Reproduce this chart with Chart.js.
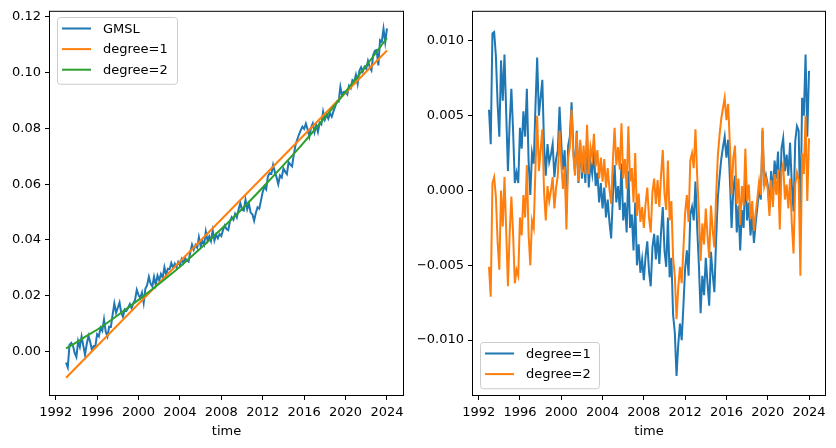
<!DOCTYPE html>
<html>
<head>
<meta charset="utf-8">
<script src="https://cdn.jsdelivr.net/npm/chart.js@4.4.1/dist/chart.umd.min.js"></script>
<style>
  html, body { margin: 0; padding: 0; background: #fff; }
  .wrap { position: relative; width: 836px; height: 448px; }
  canvas { position: absolute; top: 0; }
  #gmslChart { left: 0; }
  #residChart { left: 418px; }
</style>
</head>
<body>
<div class="wrap">
  <canvas id="gmslChart" width="418" height="448"></canvas>
  <canvas id="residChart" width="418" height="448"></canvas>
</div>
<script>
// samples every two months, 1993.0 .. 2024.0
const startYear = 1993;
const samplesPerYear = 6;

const gmsl = [
  -0.0040, -0.0057, 0.0024, 0.0031, 0.0021, -0.0005,
  -0.0020, 0.0037, 0.0016, 0.0054, 0.0021, -0.0012,
  0.0027, 0.0056, 0.0034, 0.0006, 0.0019, 0.0018,
  0.0062, 0.0054, 0.0085, 0.0074, 0.0115, 0.0071,
  0.0054, 0.0089, 0.0088, 0.0132, 0.0172, 0.0139,
  0.0157, 0.0176, 0.0138, 0.0124, 0.0151, 0.0146,
  0.0157, 0.0170, 0.0155, 0.0173, 0.0185, 0.0221,
  0.0203, 0.0191, 0.0211, 0.0174, 0.0226, 0.0238,
  0.0268, 0.0243, 0.0233, 0.0268, 0.0239, 0.0272,
  0.0255, 0.0278, 0.0264, 0.0302, 0.0274, 0.0297,
  0.0295, 0.0317, 0.0300, 0.0315, 0.0302, 0.0321,
  0.0310, 0.0331, 0.0317, 0.0335, 0.0326, 0.0322,
  0.0356, 0.0383, 0.0365, 0.0382, 0.0372, 0.0410,
  0.0378, 0.0396, 0.0383, 0.0430, 0.0398, 0.0413,
  0.0396, 0.0434, 0.0398, 0.0419, 0.0406, 0.0421,
  0.0414, 0.0436, 0.0452, 0.0439, 0.0435, 0.0467,
  0.0482, 0.0472, 0.0494, 0.0481, 0.0509, 0.0532,
  0.0509, 0.0505, 0.0544, 0.0510, 0.0530, 0.0498,
  0.0492, 0.0469, 0.0497, 0.0517, 0.0512, 0.0542,
  0.0573, 0.0591, 0.0581, 0.0628, 0.0639, 0.0637,
  0.0669, 0.0644, 0.0625, 0.0600, 0.0631, 0.0624,
  0.0656, 0.0645, 0.0636, 0.0679, 0.0670, 0.0664,
  0.0706, 0.0740, 0.0760, 0.0778, 0.0793, 0.0806,
  0.0798, 0.0817, 0.0797, 0.0770, 0.0803, 0.0818,
  0.0786, 0.0811, 0.0787, 0.0820, 0.0814, 0.0860,
  0.0832, 0.0850, 0.0835, 0.0854, 0.0842, 0.0862,
  0.0879, 0.0897, 0.0896, 0.0949, 0.0918, 0.0931,
  0.0932, 0.0922, 0.0953, 0.0944, 0.0973, 0.0967,
  0.0992, 0.0960, 0.1006, 0.1019, 0.1004, 0.1021,
  0.1013, 0.1042, 0.1020, 0.1008, 0.1062, 0.1078,
  0.1081, 0.1026, 0.1116, 0.1110, 0.1157, 0.1109,
  0.1159,
];

const residDeg1 = [
  0.0054, 0.0031, 0.0105, 0.0106, 0.0090, 0.0058,
  0.0036, 0.0087, 0.0060, 0.0091, 0.0052, 0.0013,
  0.0045, 0.0068, 0.0040, 0.0005, 0.0012, 0.0005,
  0.0042, 0.0028, 0.0053, 0.0036, 0.0068, 0.0020,
  -0.0003, 0.0025, 0.0018, 0.0056, 0.0089, 0.0050,
  0.0062, 0.0074, 0.0030, 0.0010, 0.0031, 0.0019,
  0.0024, 0.0031, 0.0009, 0.0021, 0.0027, 0.0056,
  0.0032, 0.0014, 0.0027, -0.0016, 0.0030, 0.0036,
  0.0059, 0.0028, 0.0012, 0.0040, 0.0005, 0.0032,
  0.0008, 0.0025, 0.0005, 0.0036, 0.0002, 0.0019,
  0.0011, 0.0026, 0.0003, 0.0012, -0.0008, 0.0005,
  -0.0012, 0.0002, -0.0018, -0.0006, -0.0021, -0.0032,
  -0.0004, 0.0017, -0.0008, 0.0003, -0.0013, 0.0018,
  -0.0020, -0.0008, -0.0028, 0.0013, -0.0025, -0.0016,
  -0.0040, -0.0008, -0.0050, -0.0036, -0.0055, -0.0046,
  -0.0060, -0.0044, -0.0034, -0.0054, -0.0064, -0.0038,
  -0.0029, -0.0046, -0.0030, -0.0049, -0.0028, -0.0011,
  -0.0040, -0.0051, -0.0018, -0.0058, -0.0045, -0.0083,
  -0.0095, -0.0124, -0.0103, -0.0089, -0.0100, -0.0077,
  -0.0052, -0.0040, -0.0057, -0.0016, -0.0011, -0.0020,
  0.0006, -0.0025, -0.0050, -0.0082, -0.0057, -0.0070,
  -0.0045, -0.0062, -0.0077, -0.0041, -0.0056, -0.0068,
  -0.0033, -0.0005, 0.0009, 0.0021, 0.0029, 0.0036,
  0.0022, 0.0034, 0.0008, -0.0025, 0.0001, 0.0010,
  -0.0028, -0.0010, -0.0040, -0.0013, -0.0025, 0.0014,
  -0.0020, -0.0008, -0.0030, -0.0017, -0.0035, -0.0022,
  -0.0011, 0.0001, -0.0006, 0.0040, 0.0003, 0.0010,
  0.0004, -0.0012, 0.0013, -0.0003, 0.0020, 0.0008,
  0.0026, -0.0012, 0.0028, 0.0035, 0.0013, 0.0024,
  0.0010, 0.0032, 0.0004, -0.0014, 0.0033, 0.0043,
  0.0040, -0.0022, 0.0062, 0.0050, 0.0091, 0.0036,
  0.0080,
];

const residDeg2 = [
  -0.0051, -0.0071, 0.0005, 0.0009, -0.0004, -0.0034,
  -0.0053, 0.0000, -0.0024, 0.0009, -0.0027, -0.0064,
  -0.0029, -0.0004, -0.0029, -0.0062, -0.0053, -0.0057,
  -0.0018, -0.0030, -0.0003, -0.0018, 0.0017, -0.0029,
  -0.0050, -0.0020, -0.0025, 0.0015, 0.0050, 0.0013,
  0.0027, 0.0041, -0.0001, -0.0020, 0.0003, -0.0007,
  0.0000, 0.0009, -0.0012, 0.0002, 0.0010, 0.0040,
  0.0018, 0.0001, 0.0016, -0.0026, 0.0022, 0.0029,
  0.0054, 0.0024, 0.0010, 0.0039, 0.0006, 0.0034,
  0.0012, 0.0030, 0.0011, 0.0044, 0.0011, 0.0029,
  0.0022, 0.0038, 0.0016, 0.0027, 0.0008, 0.0022,
  0.0006, 0.0021, 0.0002, 0.0015, 0.0001, -0.0009,
  0.0020, 0.0042, 0.0017, 0.0029, 0.0014, 0.0045,
  0.0008, 0.0021, 0.0001, 0.0043, 0.0006, 0.0015,
  -0.0008, 0.0025, -0.0017, -0.0002, -0.0021, -0.0011,
  -0.0025, -0.0009, 0.0002, -0.0018, -0.0028, -0.0001,
  0.0008, -0.0009, 0.0007, -0.0011, 0.0010, 0.0027,
  -0.0002, -0.0013, 0.0020, -0.0020, -0.0007, -0.0045,
  -0.0057, -0.0086, -0.0065, -0.0051, -0.0062, -0.0039,
  -0.0015, -0.0003, -0.0021, 0.0020, 0.0025, 0.0015,
  0.0041, 0.0010, -0.0015, -0.0047, -0.0022, -0.0036,
  -0.0012, -0.0030, -0.0045, -0.0010, -0.0026, -0.0038,
  -0.0004, 0.0023, 0.0037, 0.0048, 0.0055, 0.0062,
  0.0047, 0.0058, 0.0031, -0.0003, 0.0022, 0.0030,
  -0.0009, 0.0008, -0.0023, 0.0003, -0.0010, 0.0028,
  -0.0007, 0.0004, -0.0019, -0.0007, -0.0027, -0.0015,
  -0.0005, 0.0006, -0.0003, 0.0042, 0.0003, 0.0008,
  0.0001, -0.0017, 0.0007, -0.0011, 0.0011, -0.0003,
  0.0014, -0.0026, 0.0013, 0.0018, -0.0006, 0.0004,
  -0.0012, 0.0008, -0.0022, -0.0042, 0.0004, 0.0012,
  0.0007, -0.0057, 0.0025, 0.0011, 0.0050, -0.0007,
  0.0035,
];

// fitted curves, read at a few years
const fit1Years = [1993, 2024];
const fit1Values = [-0.0094, 0.1079];
const fit2Years = [1993, 1994, 1995, 1996, 1998, 2000, 2002, 2004, 2006, 2008, 2010, 2012, 2014, 2016, 2018, 2020, 2022, 2024];
const fit2Values = [0.0011, 0.0033, 0.0056, 0.0078, 0.0130, 0.0185, 0.0243, 0.0304, 0.0370, 0.0439, 0.0511, 0.0588, 0.0668, 0.0751, 0.0839, 0.0931, 0.1025, 0.1124];

const xTicks = [1992, 1996, 2000, 2004, 2008, 2012, 2016, 2020, 2024];
const gmslTicks = [0.00, 0.02, 0.04, 0.06, 0.08, 0.10, 0.12];
const residTicks = [-0.010, -0.005, 0.000, 0.005, 0.010];

const BLUE = '#1f77b4';
const ORANGE = '#ff7f0e';
const GREEN = '#2ca02c';
const font = { family: '"DejaVu Sans", sans-serif', size: 13 };

const sampleTimes = gmsl.map((_, i) => startYear + i / samplesPerYear);
const toPoints = (xs, ys) => ys.map((y, i) => ({ x: xs[i], y }));

const frame = {
  id: 'frame',
  afterDatasetsDraw(chart) {
    const { ctx, chartArea: a } = chart;
    ctx.save();
    ctx.strokeStyle = '#000';
    ctx.lineWidth = 1;
    ctx.strokeRect(a.left - 0.5, a.top - 0.5, a.right - a.left + 1, a.bottom - a.top + 1);
    ctx.restore();
  },
};

const boxLegend = {
  id: 'boxLegend',
  afterDraw(chart, args, opts) {
    const { ctx } = chart;
    const items = chart.data.datasets;
    const rowH = 20.6;
    const h = items.length * rowH + 5;
    ctx.save();
    ctx.fillStyle = 'rgba(255,255,255,0.8)';
    ctx.strokeStyle = '#cccccc';
    ctx.lineWidth = 1;
    ctx.beginPath();
    ctx.roundRect(opts.x + 0.5, opts.y + 0.5, opts.width, h, 3);
    ctx.fill();
    ctx.stroke();
    ctx.font = `${font.size}px ${font.family}`;
    ctx.textBaseline = 'middle';
    items.forEach((ds, i) => {
      const cy = opts.y + 11.5 + i * rowH;
      ctx.strokeStyle = ds.borderColor;
      ctx.lineWidth = 2;
      ctx.beginPath();
      ctx.moveTo(opts.x + 5, cy);
      ctx.lineTo(opts.x + 34, cy);
      ctx.stroke();
      ctx.fillStyle = '#000';
      ctx.fillText(ds.label, opts.x + 46, cy + 1);
    });
    ctx.restore();
  },
};

const lineSet = (label, points, color, order, extra = {}) => ({
  label,
  data: points,
  borderColor: color,
  backgroundColor: color,
  borderWidth: 2,
  pointRadius: 0,
  tension: 0,
  fill: false,
  order,
  ...extra,
});

const buildOptions = (yMin, yMax, yTicks, digits, yWidth, padRight, legendBox) => ({
  responsive: false,
  animation: false,
  devicePixelRatio: 1,
  layout: { padding: { left: 0, top: 10, right: padRight, bottom: 0 } },
  plugins: {
    legend: { display: false },
    tooltip: { enabled: false },
    boxLegend: legendBox,
  },
  scales: {
    x: {
      type: 'linear',
      min: 1991.45,
      max: 2025.55,
      afterBuildTicks: (scale) => { scale.ticks = xTicks.map(v => ({ value: v })); },
      afterFit: (scale) => { scale.height = 53; },
      grid: { drawOnChartArea: false, color: '#000', tickLength: 5 },
      border: { display: false },
      ticks: {
        color: '#000', font, padding: 5, autoSkip: false, maxRotation: 0,
        callback: (value) => String(value),
      },
      title: { display: true, text: 'time', color: '#000', font, padding: { top: 0, bottom: 9 } },
    },
    y: {
      type: 'linear',
      min: yMin,
      max: yMax,
      afterBuildTicks: (scale) => { scale.ticks = yTicks.map(v => ({ value: v })); },
      afterFit: (scale) => { scale.width = yWidth; },
      grid: { drawOnChartArea: false, color: '#000', tickLength: 5 },
      border: { display: false },
      ticks: {
        color: '#000', font, padding: 4,
        callback: (value) => value.toFixed(digits).replace('-', '\u2212'),
      },
    },
  },
});

new Chart(document.getElementById('gmslChart'), {
  type: 'line',
  data: {
    datasets: [
      lineSet('GMSL', toPoints(sampleTimes, gmsl), BLUE, 3),
      lineSet('degree=1', toPoints(fit1Years, fit1Values), ORANGE, 2),
      lineSet('degree=2', toPoints(fit2Years, fit2Values), GREEN, 1, { cubicInterpolationMode: 'monotone' }),
    ],
  },
  options: buildOptions(-0.0156, 0.1218, gmslTicks, 2, 50, 15, { x: 57, y: 17, width: 120 }),
  plugins: [frame, boxLegend],
});

new Chart(document.getElementById('residChart'), {
  type: 'line',
  data: {
    datasets: [
      lineSet('degree=1', toPoints(sampleTimes, residDeg1), BLUE, 2),
      lineSet('degree=2', toPoints(sampleTimes, residDeg2), ORANGE, 1),
    ],
  },
  options: buildOptions(-0.01367, 0.01195, residTicks, 3, 55, 11, { x: 62, y: 342, width: 119 }),
  plugins: [frame, boxLegend],
});
</script>
</body>
</html>
